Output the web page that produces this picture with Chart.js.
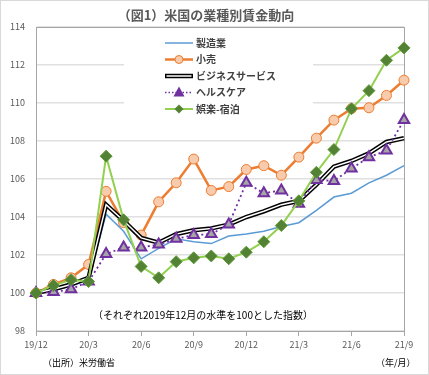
<!DOCTYPE html>
<html lang="ja">
<head>
<meta charset="UTF-8">
<title>米国の業種別賃金動向</title>
<script src="https://cdn.jsdelivr.net/npm/chart.js@4.4.0/dist/chart.umd.min.js"></script>
<style>
html, body { margin: 0; padding: 0; background: #fff; }
#wrap { width: 429px; height: 375px; position: relative; }
</style>
</head>
<body>
<div id="wrap"><canvas id="wageChart" width="429" height="375"></canvas></div>
<script>
// months 2019/12 - 2021/9, index 2019/12 = 100
const months = ['19/12','20/1','20/2','20/3','20/4','20/5','20/6','20/7','20/8','20/9','20/10','20/11',
                '20/12','21/1','21/2','21/3','21/4','21/5','21/6','21/7','21/8','21/9'];
const tickLabels = ['19/12','20/3','20/6','20/9','20/12','21/3','21/6','21/9'];
const yTicks = [98, 100, 102, 104, 106, 108, 110, 112, 114];

const seriesNames = ['製造業', '小売', 'ビジネスサービス', 'ヘルスケア', '娯楽-宿泊'];
const manufacturing = [100, 100.15, 100.35, 100.7, 104.15, 103.25, 101.8, 102.35, 102.85, 102.7, 102.6, 103.0,
                       103.1, 103.25, 103.5, 103.7, 104.35, 105.05, 105.25, 105.8, 106.2, 106.7];
const retail = [100, 100.45, 100.8, 101.5, 105.35, 103.7, 103.05, 104.8, 105.8, 107.05, 105.4, 105.6,
                106.5, 106.7, 106.2, 107.15, 108.15, 109.1, 109.7, 109.75, 110.4, 111.2];
const business = [100, 100.2, 100.45, 100.8, 104.65, 103.8, 102.9, 102.65, 103.1, 103.3, 103.4, 103.6,
                  104.0, 104.3, 104.65, 104.85, 105.7, 106.65, 106.95, 107.35, 107.95, 108.15];
const healthcare = [100, 100.05, 100.2, 100.6, 102.05, 102.4, 102.4, 102.55, 102.85, 103.05, 103.1, 103.6,
                    105.8, 105.25, 105.4, 104.7, 105.95, 105.9, 106.55, 107.15, 107.5, 109.1];
const leisure = [100, 100.4, 100.7, 100.6, 107.2, 103.85, 101.4, 100.8, 101.65, 101.85, 101.95, 101.8,
                 102.15, 102.7, 103.55, 104.85, 106.35, 107.55, 109.7, 110.65, 112.25, 112.9];

const JP = "'Noto Sans CJK JP', 'Noto Sans', sans-serif";

// title, plot frame, legend box and notes
const extras = {
    id: 'extras',
    beforeDatasetsDraw(chart) {
        const a = chart.chartArea, c = chart.ctx;
        c.save();
        c.strokeStyle = '#a6a6a6';
        c.lineWidth = 1;
        c.strokeRect(Math.round(a.left) + 0.5, Math.round(a.top) + 0.5,
                     Math.round(a.right - a.left), Math.round(a.bottom - a.top));
        c.restore();
    },
    afterDraw(chart) {
        const c = chart.ctx;
        c.save();
        // outer frame
        c.strokeStyle = '#d9d9d9';
        c.lineWidth = 1;
        c.strokeRect(0.5, 0.5, 428, 374);

        // title
        c.fillStyle = '#595959';
        c.font = 'bold 13px ' + JP;
        c.textAlign = 'center';
        c.textBaseline = 'middle';
        c.fillText('（図1）米国の業種別賃金動向', 206, 15);

        // legend
        c.fillStyle = '#fff';
        c.fillRect(124, 31, 189, 88);
        const rows = [43, 59.5, 76, 92.5, 109];
        const x0 = 165, x1 = 193, xm = 179;
        c.textAlign = 'left';
        c.font = 'bold 10px ' + JP;
        rows.forEach((y, i) => {
            c.setLineDash([]);
            if (i === 0) {
                c.strokeStyle = '#5B9BD5'; c.lineWidth = 1.5;
                c.beginPath(); c.moveTo(x0, y); c.lineTo(x1, y); c.stroke();
            } else if (i === 1) {
                c.strokeStyle = '#ED7D31'; c.lineWidth = 2.5;
                c.beginPath(); c.moveTo(x0, y); c.lineTo(x1, y); c.stroke();
                c.fillStyle = '#F8CBAD'; c.lineWidth = 1;
                c.beginPath(); c.arc(xm, y, 4, 0, Math.PI * 2); c.fill(); c.stroke();
            } else if (i === 2) {
                c.strokeStyle = '#000'; c.lineWidth = 4.5;
                c.beginPath(); c.moveTo(x0, y); c.lineTo(x1, y); c.stroke();
                c.strokeStyle = '#fff'; c.lineWidth = 1.5;
                c.beginPath(); c.moveTo(x0 + 1.5, y); c.lineTo(x1 - 1.5, y); c.stroke();
            } else if (i === 3) {
                c.strokeStyle = '#7030A0'; c.lineWidth = 1.5; c.setLineDash([1.5, 2]);
                c.beginPath(); c.moveTo(x0, y); c.lineTo(x1, y); c.stroke();
                c.setLineDash([]);
                c.fillStyle = '#7030A0';
                c.beginPath(); c.moveTo(xm, y - 6); c.lineTo(xm + 5.5, y + 4); c.lineTo(xm - 5.5, y + 4); c.closePath(); c.fill();
            } else {
                c.strokeStyle = '#92D050'; c.lineWidth = 2;
                c.beginPath(); c.moveTo(x0, y); c.lineTo(x1, y); c.stroke();
                c.fillStyle = '#548235';
                c.beginPath(); c.moveTo(xm, y - 4.5); c.lineTo(xm + 4.5, y); c.lineTo(xm, y + 4.5); c.lineTo(xm - 4.5, y); c.closePath(); c.fill();
            }
            c.fillStyle = '#404040';
            c.fillText(seriesNames[i], 196, y);
        });

        // notes
        c.fillStyle = '#000';
        c.font = '10px ' + JP;
        c.textAlign = 'center';
        c.fillText('（それぞれ2019年12月の水準を100とした指数）', 203, 315);
        c.font = '9px ' + JP;
        c.textAlign = 'left';
        c.fillText('（出所）米労働省', 43, 363);
        c.fillText('（年/月）', 376, 363);
        c.restore();
    }
};

const ctx = document.getElementById('wageChart').getContext('2d');
new Chart(ctx, {
    type: 'line',
    data: {
        labels: months,
        datasets: [
            { label: seriesNames[4], data: leisure, order: 0, borderColor: '#92D050', borderWidth: 2,
              pointStyle: 'rectRot', pointRadius: 6, pointBackgroundColor: '#548235', pointBorderColor: '#5E9A3A', pointBorderWidth: 1 },
            { label: seriesNames[3], data: healthcare, order: 1, borderColor: '#7030A0', borderWidth: 1.8, borderDash: [2, 3],
              pointStyle: 'triangle', pointRadius: 6, pointBackgroundColor: '#A5A5A5', pointBorderColor: '#7030A0', pointBorderWidth: 2 },
            { label: '', data: business, order: 2, borderColor: '#fff', borderWidth: 1.5, pointRadius: 0 },
            { label: seriesNames[2], data: business, order: 3, borderColor: '#000', borderWidth: 4.5, pointRadius: 0 },
            { label: seriesNames[1], data: retail, order: 4, borderColor: '#ED7D31', borderWidth: 2.5,
              pointStyle: 'circle', pointRadius: 5, pointBackgroundColor: '#F8CBAD', pointBorderColor: '#ED7D31', pointBorderWidth: 1 },
            { label: seriesNames[0], data: manufacturing, order: 5, borderColor: '#5B9BD5', borderWidth: 1.5, pointRadius: 0 }
        ]
    },
    options: {
        responsive: false,
        animation: false,
        layout: { padding: { left: 0, right: 25, top: 27, bottom: 0 } },
        elements: { line: { tension: 0 } },
        plugins: {
            legend: { display: false },
            tooltip: { enabled: false },
            title: { display: false }
        },
        scales: {
            x: {
                offset: false,
                afterFit(scale) { scale.height = 44; },
                grid: {
                    drawOnChartArea: false,
                    tickLength: 5,
                    tickColor: (c) => tickLabels.includes(months[c.index]) ? '#a6a6a6' : 'rgba(0,0,0,0)'
                },
                border: { color: '#a6a6a6' },
                ticks: {
                    autoSkip: false,
                    maxRotation: 0,
                    padding: 3,
                    color: '#595959',
                    font: { family: JP, size: 9 },
                    callback: (v, i) => tickLabels.includes(months[i]) ? months[i] : ''
                }
            },
            y: {
                min: yTicks[0],
                max: yTicks[yTicks.length - 1],
                afterFit(scale) { scale.width = 36; },
                afterBuildTicks(scale) { scale.ticks = yTicks.map(v => ({ value: v })); },
                grid: { color: '#e0e0e0', lineWidth: 1.5, drawTicks: false },
                border: { color: '#999' },
                ticks: {
                    padding: 11,
                    color: '#595959',
                    font: { family: JP, size: 9 }
                }
            }
        }
    },
    plugins: [extras]
});
</script>
</body>
</html>
